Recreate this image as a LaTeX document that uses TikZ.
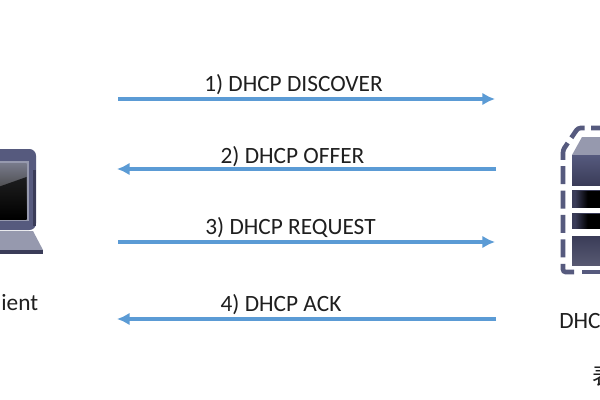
\documentclass[tikz,border=0pt]{standalone}
\usepackage{fontspec}
\setmainfont{Carlito}
\newfontfamily\cjk{Noto Sans CJK SC}
\usetikzlibrary{arrows.meta,positioning}
\definecolor{flowblue}{HTML}{5B9BD5}
\definecolor{slatedark}{HTML}{3A3C58}
\definecolor{slatemid}{HTML}{565A7E}
\definecolor{slatepale}{HTML}{9699AE}

\begin{document}
\begin{tikzpicture}[
    x=0.75pt, y=-0.75pt,
    every node/.style={font=\fontsize{17.5}{20}\selectfont, text=black!88, inner sep=0pt},
    flow/.style={-{Latex[length=9.5pt,width=9.5pt]}, line width=2.4pt, flowblue},
    label/.style={anchor=base},
    dashes/.style={slatemid, line width=3.5pt, dash pattern=on 13.5pt off 4.8pt, rounded corners=2pt},
    slot/.style={left color=slatedark, right color=black, middle color=black}
]
\useasboundingbox (0,0) rectangle (600,400);
\clip (0,0) rectangle (600,400);
\fill[white] (0,0) rectangle (600,400);

% endpoints of the four messages
\coordinate (c1) at (118,99);
\coordinate (s1) at (495,99);
\coordinate (s2) at (496,169);
\coordinate (c2) at (117,169);
\coordinate (c3) at (118,242);
\coordinate (s3) at (495,242);
\coordinate (s4) at (496,319);
\coordinate (c4) at (117,319);
\draw[flow] (c1) -- (s1);
\draw[flow] (s2) -- (c2);
\draw[flow] (c3) -- (s3);
\draw[flow] (s4) -- (c4);
\node[label] (discover) at (293.5,91) {1) DHCP DISCOVER};
\node[label] (offer) at (292.5,163) {2) DHCP OFFER};
\node[label] (request) at (290.5,234) {3) DHCP REQUEST};
\node[label] (ack) at (281,311) {4) DHCP ACK};

% laptop
\fill[slatemid, rounded corners=5pt] (-30,149) rectangle (36,230);
\fill[slatedark] (33,170) rectangle (36,226);
\fill[slatepale] (-30,161) rectangle (28.5,221);
\shade[top color=slatepale!80!black, bottom color=black, middle color=black!72] (-30,163) rectangle (26.5,219);
\fill[black, opacity=0.7] (-30,197) -- (26.5,177) -- (26.5,219) -- (-30,219) -- cycle;
\fill[slatepale] (-30,231) -- (33,231) -- (43,250) -- (-30,250) -- cycle;
\fill[slatedark] (-30,250) -- (43,250) -- (43,253.5) -- (-30,253.5) -- cycle;
\node[anchor=base east] (client) at (38.5,310) {Client};

% server
\draw[dashes] (574,272) -- (563,272) -- (563,150) -- (578,128) -- (640,128);
\draw[dashes] (582,272) -- (640,272);
\fill[slatepale] (572,155) -- (582,137) -- (600,137) -- (600,155) -- cycle;
\shade[top color=slatemid, bottom color=slatedark] (572,155) rectangle (600,185);
\fill[slatedark] (572,190) rectangle (600,207.5);
\fill[slot] (575,191) rectangle (600,207);
\fill[slatedark] (572,213) rectangle (600,229);
\fill[slot] (575,214) rectangle (600,228);
\shade[top color=slatedark, bottom color=slatedark!85!white] (572,236) rectangle (600,265);
\node[anchor=base west] (server) at (559,328) {DHCP Server};
\node[anchor=base west] (note) at (592,384) {\cjk 表};
\end{tikzpicture}
\end{document}
